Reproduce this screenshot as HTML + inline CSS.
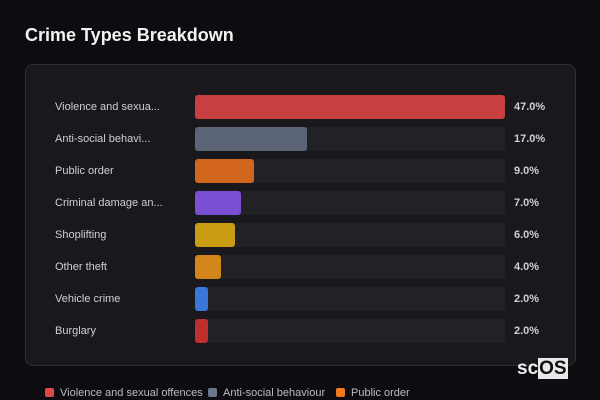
<!DOCTYPE html>
<html><head><style>
body{margin:0;width:600px;height:400px;background:#0d0d11;font-family:"Liberation Sans","DejaVu Sans",sans-serif;position:relative;overflow:hidden;color:#ddd}
h1{position:absolute;left:25px;top:25px;margin:0;font-size:18px;font-weight:bold;color:#f2f2f2}
.card{position:absolute;left:25px;top:64px;width:549px;height:300px;background:#19191d;border:1px solid #2f2f34;border-radius:8px}
.row{position:absolute;left:0;height:24px}
.lab{position:absolute;left:55px;font-size:11px;color:#cfcfd4;line-height:24px;white-space:nowrap}
.trk{position:absolute;left:195px;width:310px;height:24px;background:#222226;border-radius:3px}
.bar{position:absolute;left:195px;height:24px;border-radius:3px}
.val{position:absolute;left:514px;font-size:11px;font-weight:bold;color:#cfcfd4;line-height:24px}
.leg{position:absolute;top:387px;font-size:11px;color:#bbbbc2;white-space:nowrap}
.leg i{display:inline-block;width:9px;height:9px;border-radius:2px;margin-right:6px;vertical-align:-1px}
.logo{position:absolute;left:517px;top:358px;font-size:19px;font-weight:bold;color:#eee}
.logo span{background:#e8e8e8;color:#111;padding:0 1px}
</style></head><body>
<h1>Crime Types Breakdown</h1>
<div class="card"></div>
<div id="rows"></div>
<div class="lab" style="top:95px">Violence and sexua...</div><div class="trk" style="top:95px"></div><div class="bar" style="top:95px;width:310px;background:#c83f40"></div><div class="val" style="top:95px">47.0%</div>
<div class="lab" style="top:127px">Anti-social behavi...</div><div class="trk" style="top:127px"></div><div class="bar" style="top:127px;width:112px;background:#5b6577"></div><div class="val" style="top:127px">17.0%</div>
<div class="lab" style="top:159px">Public order</div><div class="trk" style="top:159px"></div><div class="bar" style="top:159px;width:59px;background:#d1661c"></div><div class="val" style="top:159px">9.0%</div>
<div class="lab" style="top:191px">Criminal damage an...</div><div class="trk" style="top:191px"></div><div class="bar" style="top:191px;width:46px;background:#7b4fd4"></div><div class="val" style="top:191px">7.0%</div>
<div class="lab" style="top:223px">Shoplifting</div><div class="trk" style="top:223px"></div><div class="bar" style="top:223px;width:40px;background:#c99c14"></div><div class="val" style="top:223px">6.0%</div>
<div class="lab" style="top:255px">Other theft</div><div class="trk" style="top:255px"></div><div class="bar" style="top:255px;width:26px;background:#d2861a"></div><div class="val" style="top:255px">4.0%</div>
<div class="lab" style="top:287px">Vehicle crime</div><div class="trk" style="top:287px"></div><div class="bar" style="top:287px;width:13px;background:#3a77d6"></div><div class="val" style="top:287px">2.0%</div>
<div class="lab" style="top:319px">Burglary</div><div class="trk" style="top:319px"></div><div class="bar" style="top:319px;width:13px;background:#c02f30"></div><div class="val" style="top:319px">2.0%</div>
<div class="logo">sc<span>OS</span></div>
<div class="leg" style="left:45px"><i style="background:#e0474a"></i>Violence and sexual offences</div>
<div class="leg" style="left:208px"><i style="background:#6b7890"></i>Anti-social behaviour</div>
<div class="leg" style="left:336px"><i style="background:#f07a1e"></i>Public order</div>
</body></html>
